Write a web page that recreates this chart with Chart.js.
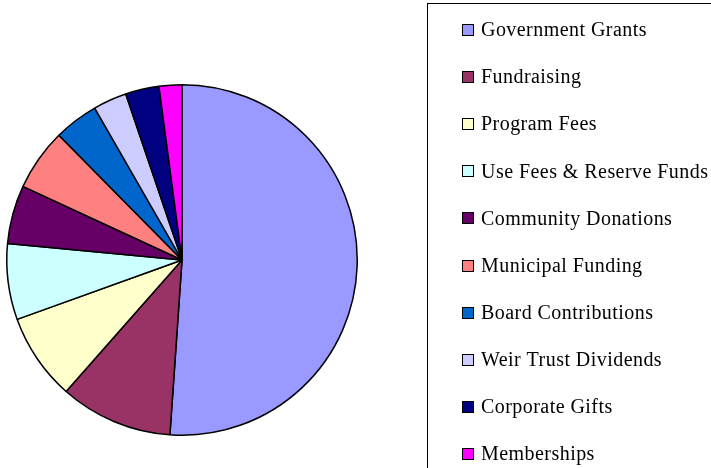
<!DOCTYPE html>
<html>
<head>
<meta charset="utf-8">
<script src="https://cdn.jsdelivr.net/npm/chart.js@4/dist/chart.umd.min.js"></script>
<style>
  html, body { margin: 0; padding: 0; background: #fff; }
  #wrap { width: 711px; height: 468px; }
</style>
</head>
<body>
<div id="wrap"><canvas id="pie" width="711" height="468"></canvas></div>
<script>
// data (share of total, %)
const categories = ['Government Grants', 'Fundraising', 'Program Fees', 'Use Fees & Reserve Funds',
  'Community Donations', 'Municipal Funding', 'Board Contributions', 'Weir Trust Dividends',
  'Corporate Gifts', 'Memberships']
const shares = [51.1, 10.4, 8.0, 7.0, 5.4, 5.7, 4.1, 3.1, 3.1, 2.1]
const colors = ['#9999FF', '#993366', '#FFFFCC', '#CCFFFF', '#660066',
  '#FF8080', '#0066CC', '#CCCCFF', '#000080', '#FF00FF']

// legend drawn on the canvas in the old office-chart style (framed box, serif text)
const boxLegend = {
  id: 'boxLegend',
  afterDraw(chart, args, opts) {
    const ctx = chart.ctx
    ctx.save()
    ctx.strokeStyle = '#000'
    ctx.lineWidth = 1
    ctx.strokeRect(427.5, 3.5, 400, 500)
    ctx.font = opts.font
    ctx.letterSpacing = '0.45px'
    ctx.textBaseline = 'middle'
    chart.data.labels.forEach((lab, i) => {
      const y = opts.top + i * opts.step
      ctx.fillStyle = chart.data.datasets[0].backgroundColor[i]
      ctx.fillRect(opts.boxX, Math.round(y) - 5, 11, 11)
      ctx.strokeStyle = '#000'
      ctx.strokeRect(opts.boxX + 0.5, Math.round(y) - 5.5, 11, 11)
      ctx.fillStyle = '#000'
      ctx.fillText(lab, opts.textX, y + 1)
    })
    ctx.restore()
  }
}

new Chart(document.getElementById('pie'), {
  type: 'pie',
  data: {
    labels: categories,
    datasets: [{
      data: shares,
      backgroundColor: colors,
      borderColor: '#000',
      borderWidth: 1.5
    }]
  },
  options: {
    responsive: false,
    animation: false,
    events: [],
    layout: { padding: { left: 6, top: 84, right: 353, bottom: 32 } },
    plugins: {
      legend: { display: false },
      tooltip: { enabled: false },
      boxLegend: { font: '20px "Liberation Serif"', top: 30, step: 47.1, boxX: 462, textX: 481 }
    }
  },
  plugins: [boxLegend]
})
</script>
</body>
</html>
